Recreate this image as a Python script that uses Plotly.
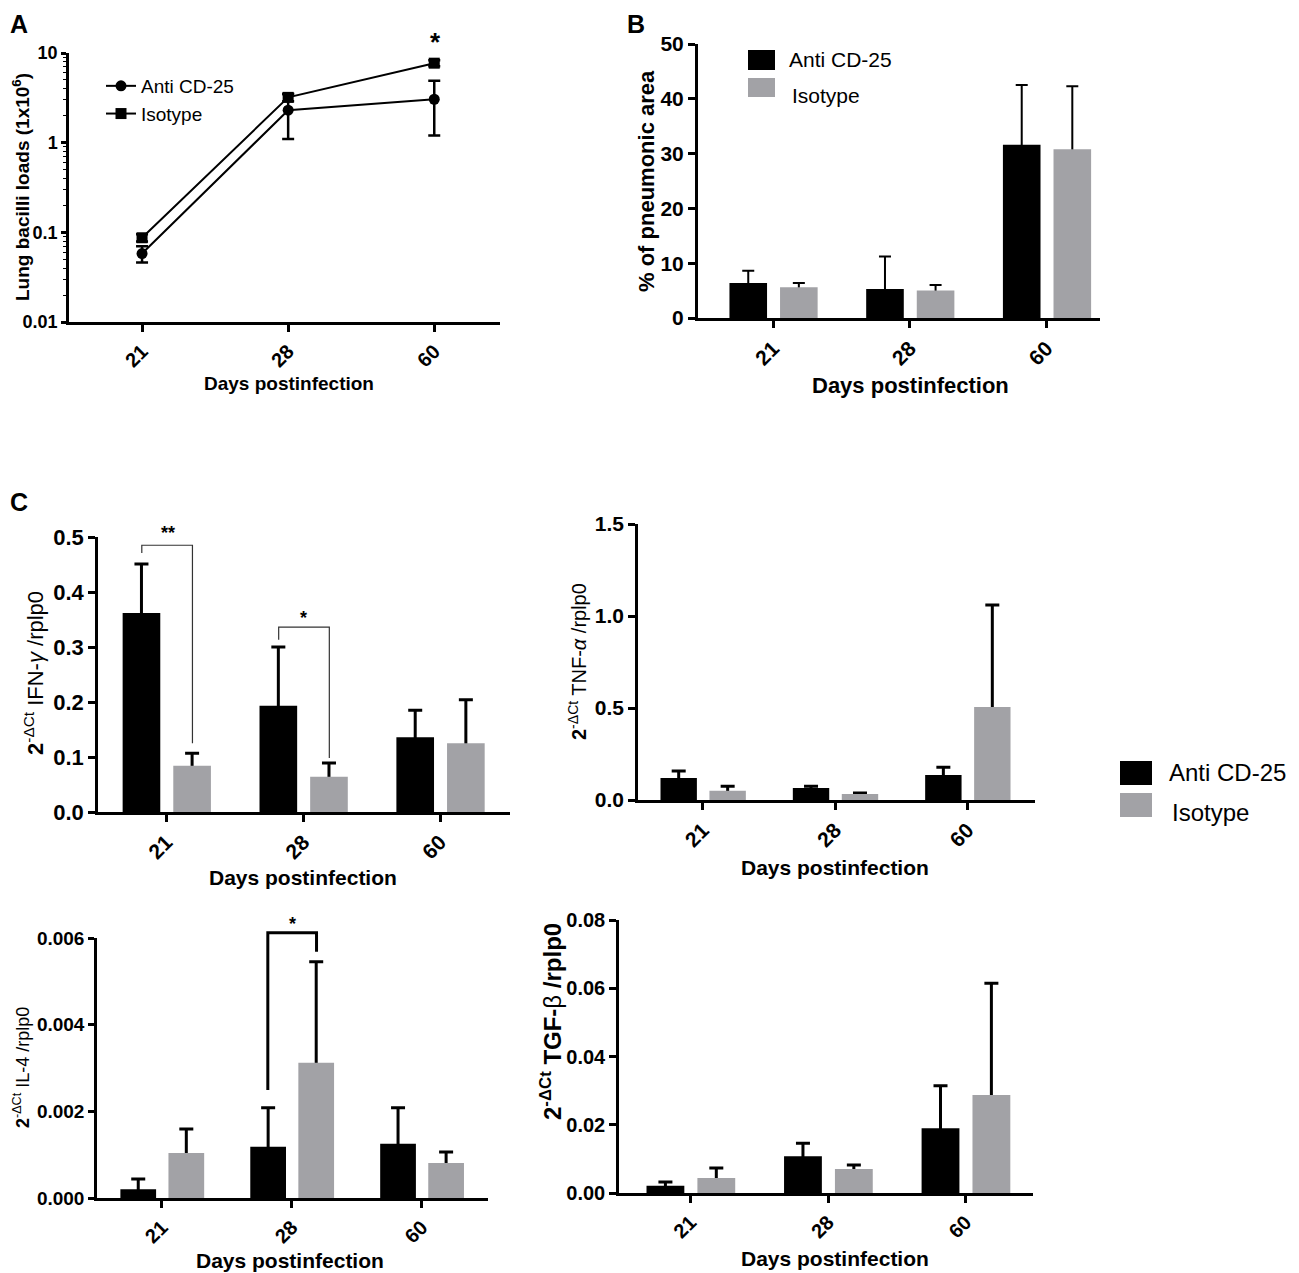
import plotly.graph_objects as go

W, H = 1299, 1273
PAD = 8  # page body margin before the figure
FW, FH = W - PAD, H - PAD

# --- data ---
days = ["21", "28", "60"]
day_pos = [0, 1, 2]

# A: lung bacilli loads (x10^6)
cfu_anti = [0.058, 2.3, 3.05]
cfu_anti_sd = [0.012, 1.2, 1.85]
cfu_iso = [0.087, 3.2, 7.7]
cfu_iso_sd = [0.008, 0.3, 0.6]

# B: % of pneumonic area
pneu_anti = [6.4, 5.3, 31.6]
pneu_anti_err = [2.2, 5.9, 10.9]
pneu_iso = [5.6, 5.0, 30.8]
pneu_iso_err = [0.8, 1.0, 11.5]

# C: cytokine expression
ifn_anti = [0.362, 0.193, 0.136]
ifn_anti_err = [0.089, 0.107, 0.049]
ifn_iso = [0.084, 0.064, 0.125]
ifn_iso_err = [0.023, 0.025, 0.079]

tnf_anti = [0.12, 0.065, 0.136]
tnf_anti_err = [0.037, 0.010, 0.042]
tnf_iso = [0.05, 0.033, 0.505]
tnf_iso_err = [0.025, 0.005, 0.555]

il4_anti = [0.0002, 0.00118, 0.00125]
il4_anti_err = [0.00024, 0.0009, 0.00083]
il4_iso = [0.00104, 0.00312, 0.00081]
il4_iso_err = [0.00055, 0.00233, 0.00025]

tgf_anti = [0.0021, 0.0108, 0.019]
tgf_anti_err = [0.0011, 0.0038, 0.0124]
tgf_iso = [0.0044, 0.0070, 0.0287]
tgf_iso_err = [0.0029, 0.0012, 0.0328]

BLACK = "#000000"
GREY = "#a2a2a6"
FONT = "Liberation Sans, Arial, sans-serif"


def px(x):
    return (x - PAD) / FW


def py(y):
    return 1 - (y - PAD) / FH


def xdom(a, b):
    return [px(a), px(b)]


def ydom(top, bottom):
    return [py(bottom), py(top)]


fig = go.Figure()

# ---------- panel A ----------
fig.add_trace(go.Scatter(
    x=day_pos, y=cfu_anti, name="Anti CD-25", mode="lines+markers",
    line=dict(color=BLACK, width=2),
    marker=dict(symbol="circle", size=11, color=BLACK),
    error_y=dict(type="data", array=cfu_anti_sd, color=BLACK, thickness=2.5, width=6),
    xaxis="x", yaxis="y", legend="legend"))
fig.add_trace(go.Scatter(
    x=day_pos, y=cfu_iso, name="Isotype", mode="lines+markers",
    line=dict(color=BLACK, width=2),
    marker=dict(symbol="square", size=11, color=BLACK),
    error_y=dict(type="data", array=cfu_iso_sd, color=BLACK, thickness=2.5, width=6),
    xaxis="x", yaxis="y", legend="legend"))


# ---------- bar panels ----------
def add_bars(xa, ya, ymax, anti, anti_err, iso, iso_err, thick=3, capw=7):
    series = [(anti, anti_err, BLACK, -0.32), (iso, iso_err, GREY, 0.05)]
    # error bars first (on transparent bars) so the visible bars hide their lower end
    for vals, errs, col, off in series:
        fig.add_trace(go.Bar(
            x=day_pos, y=vals, width=0.275, offset=off,
            marker=dict(color="rgba(0,0,0,0)", line=dict(width=0)),
            error_y=dict(type="data", symmetric=False, array=errs,
                         arrayminus=[ymax * 0.02] * len(errs), color=BLACK,
                         thickness=thick, width=capw),
            xaxis=xa, yaxis=ya, showlegend=False, hoverinfo="skip"))
    for vals, errs, col, off in series:
        fig.add_trace(go.Bar(
            x=day_pos, y=vals, width=0.275, offset=off,
            marker=dict(color=col, line=dict(width=0)),
            xaxis=xa, yaxis=ya, showlegend=False))


add_bars("x2", "y2", 50, pneu_anti, pneu_anti_err, pneu_iso, pneu_iso_err, thick=2, capw=6)
add_bars("x3", "y3", 0.5, ifn_anti, ifn_anti_err, ifn_iso, ifn_iso_err)
add_bars("x4", "y4", 1.5, tnf_anti, tnf_anti_err, tnf_iso, tnf_iso_err)
add_bars("x5", "y5", 0.006, il4_anti, il4_anti_err, il4_iso, il4_iso_err)
add_bars("x6", "y6", 0.08, tgf_anti, tgf_anti_err, tgf_iso, tgf_iso_err)


# ---------- axes ----------
def bfont(size):
    return dict(family=FONT, size=size, color=BLACK, weight="bold")


def xax(dom, rng, anchor, lw=2.5, size=20):
    return dict(domain=dom, range=rng, anchor=anchor, tickmode="array",
                tickvals=day_pos, ticktext=days, tickangle=-45,
                showline=True, linecolor=BLACK, linewidth=lw,
                ticks="outside", ticklen=7, tickwidth=lw, tickcolor=BLACK,
                showgrid=False, zeroline=False, tickfont=bfont(size),
                automargin=False, fixedrange=True)


def yax(dom, rng, anchor, dtick, fmt, lw=2.5, size=20, tlen=7):
    return dict(domain=dom, range=rng, anchor=anchor, dtick=dtick, tick0=0,
                tickformat=fmt, showline=True, linecolor=BLACK, linewidth=lw,
                ticks="outside", ticklen=tlen, tickwidth=lw, tickcolor=BLACK,
                showgrid=False, zeroline=False, tickfont=bfont(size),
                automargin=False, fixedrange=True)


ya = dict(domain=ydom(53, 322), type="log", range=[-2, 1], anchor="x",
          tickvals=[0.01, 0.1, 1, 10], ticktext=["0.01", "0.1", "1", "10"],
          showline=True, linecolor=BLACK, linewidth=2.5,
          ticks="outside", ticklen=5, tickwidth=2.5, tickcolor=BLACK,
          minor=dict(ticks="outside", ticklen=3, tickwidth=1, tickcolor=BLACK,
                     dtick="D1", showgrid=False),
          showgrid=False, zeroline=False, tickfont=bfont(18),
          automargin=False, fixedrange=True)

fig.update_layout(
    xaxis=xax(xdom(69, 500), [-0.5, 2.45], "y"),
    yaxis=ya,
    xaxis2=xax(xdom(698, 1100), [-0.55, 2.39], "y2", lw=3, size=21),
    yaxis2=yax(ydom(44, 318), [0, 50], "x2", 10, "d", lw=3, size=21),
    xaxis3=xax(xdom(98, 510), [-0.5, 2.51], "y3", size=21),
    yaxis3=yax(ydom(537, 812), [0, 0.5], "x3", 0.1, ".1f", size=22),
    xaxis4=xax(xdom(638, 1035), [-0.49, 2.51], "y4", size=21),
    yaxis4=yax(ydom(524, 800), [0, 1.5], "x4", 0.5, ".1f", size=21),
    xaxis5=xax(xdom(97, 488), [-0.5, 2.51], "y5"),
    yaxis5=yax(ydom(938, 1198), [0, 0.006], "x5", 0.002, ".3f", size=19, tlen=6),
    xaxis6=xax(xdom(619, 1033), [-0.52, 2.49], "y6"),
    yaxis6=yax(ydom(920, 1193), [0, 0.08], "x6", 0.02, ".2f"),
)

# ---------- text ----------
ann = []


def text(x, y, s, size, bold=True, angle=0, xanchor="center"):
    f = dict(family=FONT, size=size, color=BLACK)
    if bold:
        f["weight"] = "bold"
    ann.append(dict(x=px(x), y=py(y), xref="paper", yref="paper", text=s,
                    showarrow=False, textangle=angle, font=f,
                    xanchor=xanchor, yanchor="middle"))


# panel letters
text(19, 24, "A", 25)
text(636, 24, "B", 25)
text(19, 502, "C", 25)

# x titles
text(289, 383, "Days postinfection", 19)
text(910, 385, "Days postinfection", 22)
text(303, 877, "Days postinfection", 21)
text(835, 867, "Days postinfection", 21)
text(290, 1260, "Days postinfection", 21)
text(835, 1258, "Days postinfection", 21)

# y titles
text(21, 187, "Lung bacilli loads (1x10<sup>6</sup>)", 19, angle=-90)
text(647, 181, "% of pneumonic area", 22, angle=-90)
text(34, 673, "<b>2</b><sup>-ΔCt</sup> IFN-<i>γ</i> /rplp0", 22, bold=False, angle=-90)
text(577, 662, "<b>2</b><sup>-ΔCt</sup> TNF-<i>α</i> /rplp0", 20, bold=False, angle=-90)
text(21, 1068, "<b>2</b><sup>-ΔCt</sup> IL-4 /rplp0", 18, bold=False, angle=-90)
text(551, 1022, "<b>2<sup>-ΔCt</sup> TGF-</b>β<b> /rplp0</b>", 24, bold=False, angle=-90)

# significance stars
text(435, 42, "*", 26)
text(168, 533, "**", 18)
text(303, 618, "*", 18)
text(292, 924, "*", 18)

# legends for bar panels
text(787, 60, "Anti CD-25", 21, bold=False, xanchor="left")
text(790, 95, "Isotype", 21, bold=False, xanchor="left")
text(1167, 773, "Anti CD-25", 24, bold=False, xanchor="left")
text(1170, 812, "Isotype", 24, bold=False, xanchor="left")


def swatch(x0, x1, top, bottom, col):
    return dict(type="rect", xref="paper", yref="paper", x0=px(x0), x1=px(x1),
                y0=py(bottom), y1=py(top), fillcolor=col, line=dict(width=0))


shapes = [
    swatch(748, 775, 50, 70, BLACK),
    swatch(748, 775, 78, 97, GREY),
    swatch(1120, 1152, 761, 785, BLACK),
    swatch(1120, 1152, 793, 817, GREY),
    # significance brackets
    dict(type="path", xref="x3", yref="y3",
         path="M -0.18,0.471 L -0.18,0.485 L 0.19,0.485 L 0.19,0.125",
         line=dict(color="#333333", width=1.2)),
    dict(type="path", xref="x3", yref="y3",
         path="M 0.82,0.313 L 0.82,0.336 L 1.19,0.336 L 1.19,0.098",
         line=dict(color="#333333", width=1.2)),
    dict(type="path", xref="x5", yref="y5 domain",
         path="M 0.815,0.415 L 0.815,1.02 L 1.19,1.02 L 1.19,0.947",
         line=dict(color=BLACK, width=3)),
]

fig.update_layout(
    width=FW, height=FH,
    margin=dict(l=0, r=0, t=0, b=0, autoexpand=False),
    paper_bgcolor="white", plot_bgcolor="white",
    barmode="overlay",
    annotations=ann, shapes=shapes,
    legend=dict(x=px(101), y=py(67), xanchor="left", yanchor="top",
                bgcolor="rgba(0,0,0,0)",
                font=dict(family=FONT, size=19, color=BLACK)),
)

fig.write_html("out.html")
